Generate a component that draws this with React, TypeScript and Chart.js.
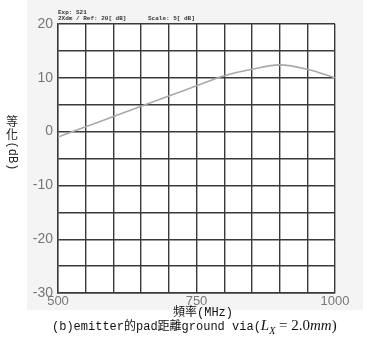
import React, { useEffect, useRef } from 'react';
import { Chart, registerables } from 'chart.js';

Chart.register(...registerables);

// Frequency (MHz) and equalization gain (dB)
const frequencies = [500, 550, 600, 650, 700, 750, 800, 850, 900, 950, 1000];
const gainDb = [-1.0, 0.9, 2.8, 4.7, 6.6, 8.5, 10.4, 11.6, 12.4, 11.6, 10.0];
const xTickLabels = [500, 750, 1000];
const yTickLabels = [20, 10, 0, -10, -20, -30];
const yTitleCjk = ['等', '化'];
const yTitleUnit = '(dB)';

const plotBg = {
  id: 'plotBg',
  beforeDraw(chart: any) {
    const { ctx, chartArea: a } = chart;
    ctx.save();
    ctx.fillStyle = '#ffffff';
    ctx.fillRect(a.left, a.top, a.width, a.height);
    ctx.restore();
  },
};

// vertical y-axis title: CJK characters upright, unit rotated clockwise
const yTitlePlugin = {
  id: 'yTitleVertical',
  afterDraw(chart: any) {
    const { ctx } = chart;
    ctx.save();
    ctx.fillStyle = '#222';
    ctx.textAlign = 'center';
    ctx.textBaseline = 'middle';
    ctx.font = '12px "Noto Sans CJK TC", sans-serif';
    yTitleCjk.forEach((ch, i) => ctx.fillText(ch, 12, 121 + i * 13));
    ctx.translate(12, 156);
    ctx.rotate(Math.PI / 2);
    ctx.font = '12px "Liberation Mono", "DejaVu Sans Mono", monospace';
    ctx.fillText(yTitleUnit, 0, 0);
    ctx.restore();
  },
};

export default function App() {
  const ref = useRef<HTMLCanvasElement | null>(null);

  useEffect(() => {
    if (!ref.current) return;
    const gridColor = '#3a3a3a';
    const chart = new Chart(ref.current, {
      type: 'line',
      data: {
        datasets: [
          {
            data: frequencies.map((f, i) => ({ x: f, y: gainDb[i] })),
            borderColor: '#a9a9a9',
            borderWidth: 1.6,
            pointRadius: 0,
            cubicInterpolationMode: 'monotone',
            fill: false,
          },
        ],
      },
      options: {
        responsive: false,
        animation: false,
        devicePixelRatio: 1,
        layout: { padding: { left: 0, right: 40, top: 24, bottom: 34 } },
        plugins: { legend: { display: false }, tooltip: { enabled: false } },
        scales: {
          x: {
            type: 'linear',
            min: 500,
            max: 1000,
            afterFit: (axis: any) => {
              axis.height = 14;
            },
            ticks: {
              stepSize: 50,
              autoSkip: false,
              maxRotation: 0,
              padding: 1,
              color: '#777',
              font: { family: 'Liberation Sans, Arial, sans-serif', size: 13 },
              callback: (v: any) => (xTickLabels.includes(Number(v)) ? String(v) : ''),
            },
            grid: { color: gridColor, lineWidth: 1.4, drawTicks: false },
            border: { color: gridColor, width: 1.4 },
          },
          y: {
            min: -30,
            max: 20,
            afterFit: (axis: any) => {
              axis.width = 58;
            },
            ticks: {
              stepSize: 5,
              autoSkip: false,
              padding: 5,
              color: '#777',
              font: { family: 'Liberation Sans, Arial, sans-serif', size: 14 },
              callback: (v: any) => (yTickLabels.includes(Number(v)) ? String(v) : ''),
            },
            grid: { color: gridColor, lineWidth: 1.4, drawTicks: false },
            border: { color: gridColor, width: 1.4 },
          },
        },
      },
      plugins: [plotBg, yTitlePlugin],
    } as any);
    return () => chart.destroy();
  }, []);

  const mono = '"Liberation Mono", "DejaVu Sans Mono", "Noto Sans CJK TC", monospace';

  return (
    <div style={{ position: 'fixed', left: 0, top: 0, width: 375, height: 341, background: '#fff', overflow: 'hidden' }}>
      <div style={{ position: 'absolute', left: 27, top: 0, width: 336, height: 310, background: '#f4f4f4' }} />
      <canvas ref={ref} width={375} height={341} style={{ position: 'absolute', left: 0, top: 0, display: 'block' }} />
      <div
        style={{
          position: 'absolute',
          left: 58,
          top: 10,
          fontFamily: mono,
          fontSize: 6,
          fontWeight: 'bold',
          lineHeight: '6px',
          color: '#333',
          whiteSpace: 'pre',
        }}
      >
        {'Exp: S21\n2Xdm / Ref: 20[ dB]      Scale: 5[ dB]'}
      </div>
      <div
        style={{
          position: 'absolute',
          left: 173,
          top: 302,
          fontFamily: mono,
          fontSize: 12,
          color: '#111',
          whiteSpace: 'pre',
        }}
      >
        {'頻率(MHz)'}
      </div>
      <div
        style={{
          position: 'absolute',
          left: 52,
          top: 316,
          fontFamily: mono,
          fontSize: 12,
          color: '#111',
          whiteSpace: 'pre',
        }}
      >
        <span>(b)emitter的pad距離ground via(</span>
        <span style={{ fontFamily: '"Liberation Serif", "DejaVu Serif", serif', fontSize: 15 }}>
          <i>L</i>
          <sub style={{ fontSize: 10 }}>
            <i>X</i>
          </sub>
          {' = 2.0'}
          <i>mm</i>)
        </span>
      </div>
    </div>
  );
}
